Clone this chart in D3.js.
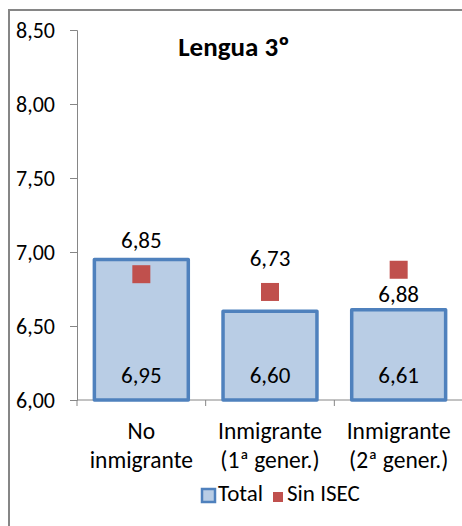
<!DOCTYPE html>
<html><head><meta charset="utf-8">
<script src="https://cdn.jsdelivr.net/npm/d3@7"></script>
<style>
html,body{margin:0;padding:0;background:#fff;overflow:hidden;}
text{font-family:Carlito,Calibri,Lato,sans-serif;fill:#000;}
</style></head>
<body>
<svg id="c" width="462" height="526"></svg>
<script>
const categories = [["No","inmigrante"],["Inmigrante","(1ª gener.)"],["Inmigrante","(2ª gener.)"]];
const totalValues = [6.95, 6.60, 6.61];
const sinIsecValues = [6.85, 6.73, 6.88];
const sinIsecLabelPos = ["above","above","below"];
const yTicks = [6.0, 6.5, 7.0, 7.5, 8.0, 8.5];
const title = "Lengua 3º";
const seriesNames = ["Total","Sin ISEC"];

const fmt = v => d3.format(".2f")(v).replace(".", ",");
const svg = d3.select("#c");
const FS = 23;

// outer frame
svg.append("rect").attr("x",9).attr("y",10).attr("width",600).attr("height",700)
  .attr("fill","none").attr("stroke","#868686").attr("stroke-width",2);

const x = d3.scaleBand().domain(d3.range(categories.length)).range([77,463]).paddingInner(0.27).paddingOuter(0.135);
const y = d3.scaleLinear().domain([6.0,8.5]).range([400,30]);

// y axis
const yAxis = svg.append("g").attr("transform","translate(77,0)")
  .call(d3.axisLeft(y).tickValues(yTicks).tickFormat(fmt).tickSize(7).tickPadding(15));
yAxis.select(".domain").attr("stroke","#868686");
yAxis.selectAll(".tick line").attr("stroke","#868686");
yAxis.selectAll(".tick text").attr("font-size",22).attr("font-family","Carlito,Calibri,Lato,sans-serif").attr("fill","#000").attr("dy","0.36em");

// x axis
svg.append("line").attr("x1",77).attr("x2",463).attr("y1",y(6.0)).attr("y2",y(6.0)).attr("stroke","#868686");
const step = x.step();
d3.range(categories.length+1).forEach(i=>{
  const xx = 77 + i*step;
  svg.append("line").attr("x1",xx).attr("x2",xx).attr("y1",y(6.0)).attr("y2",y(6.0)+6).attr("stroke","#868686");
});

// bars
svg.selectAll("rect.bar").data(totalValues).join("rect").attr("class","bar")
  .attr("x",(d,i)=>x(i)).attr("width",x.bandwidth())
  .attr("y",d=>y(d)).attr("height",d=>y(6.0)-y(d))
  .attr("fill","#b9cde5").attr("stroke","#4f81bd").attr("stroke-width",3.5).attr("stroke-linejoin","round");

// total labels
svg.selectAll("text.tl").data(totalValues).join("text").attr("class","tl")
  .attr("x",(d,i)=>x(i)+x.bandwidth()/2).attr("y",y(6.0)-17)
  .attr("text-anchor","middle").attr("font-size",FS).text(fmt);

// squares
const S = 18;
svg.selectAll("rect.sq").data(sinIsecValues).join("rect").attr("class","sq")
  .attr("x",(d,i)=>x(i)+x.bandwidth()/2-S/2).attr("y",d=>y(d)-S/2)
  .attr("width",S).attr("height",S).attr("fill","#c0504d");

svg.selectAll("text.sl").data(sinIsecValues).join("text").attr("class","sl")
  .attr("x",(d,i)=>x(i)+x.bandwidth()/2)
  .attr("y",(d,i)=> sinIsecLabelPos[i]==="above" ? y(d)-26 : y(d)+32)
  .attr("text-anchor","middle").attr("font-size",FS).text(fmt);

// category labels
categories.forEach((c,i)=>{
  const t = svg.append("text").attr("text-anchor","middle").attr("font-size",23.5)
    .attr("x",x(i)+x.bandwidth()/2).attr("y",439);
  c.forEach((line,j)=>t.append("tspan").attr("x",x(i)+x.bandwidth()/2).attr("dy",j?29:0).text(line));
});

// title
svg.append("text").attr("x",234).attr("y",56).attr("text-anchor","middle")
  .attr("font-size",27).attr("font-weight","bold").text(title);

// legend
svg.append("rect").attr("x",202).attr("y",489).attr("width",13).attr("height",13)
  .attr("fill","#b9cde5").attr("stroke","#4f81bd").attr("stroke-width",2.5);
svg.append("text").attr("x",218).attr("y",501).attr("font-size",FS).text(seriesNames[0]);
svg.append("rect").attr("x",273).attr("y",492).attr("width",10).attr("height",10).attr("fill","#c0504d");
svg.append("text").attr("x",287).attr("y",501).attr("font-size",FS).text(seriesNames[1]);
</script>
</body></html>
